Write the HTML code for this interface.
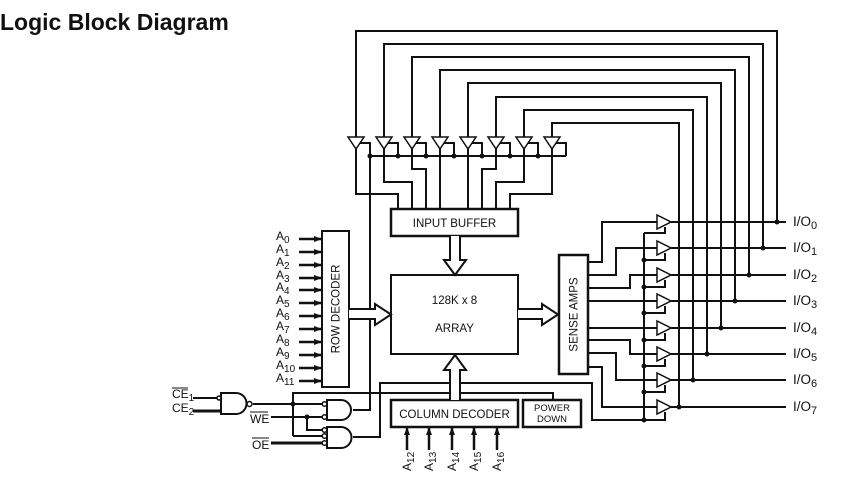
<!DOCTYPE html>
<html><head><meta charset="utf-8"><style>
html,body{margin:0;padding:0;background:#fff;}
svg{display:block;}
text{font-family:"Liberation Sans",sans-serif;fill:#111;}
</style></head><body>
<svg width="848" height="478" viewBox="0 0 848 478" xmlns="http://www.w3.org/2000/svg">
<defs>
<marker id="ah" markerWidth="8" markerHeight="6" refX="7" refY="3" orient="auto" markerUnits="userSpaceOnUse"><path d="M0,0 L8,3 L0,6 Z" fill="#111"/></marker>
</defs>
<text x="0" y="30" font-size="23" font-weight="bold">Logic Block Diagram</text>
<g fill="none" stroke="#111" stroke-width="2">
<path d="M356 137V31H777V222"/>
<path d="M384 137V44H763V248"/>
<path d="M412 137V57H749V275"/>
<path d="M440 137V70H735V301"/>
<path d="M468 137V83H721V328"/>
<path d="M496 137V97H707V354"/>
<path d="M524 137V110H693V380"/>
<path d="M552 137V123H679V407"/>
<g fill="#fff" stroke-width="1.5">
<path d="M348 137H364L356 149Z"/><path d="M376 137H392L384 149Z"/><path d="M404 137H420L412 149Z"/><path d="M432 137H448L440 149Z"/>
<path d="M460 137H476L468 149Z"/><path d="M488 137H504L496 149Z"/><path d="M516 137H532L524 149Z"/><path d="M544 137H560L552 149Z"/>
</g>
<path d="M360 143H370V156M388 143H398V156M416 143H426V156M444 143H454V156M472 143H482V156M500 143H510V156M528 143H538V156M556 143H566V156"/>
<path d="M370 156H566"/>
<path d="M356 149V194H398V209M384 149V182H412V209M412 149V169H426V209M440 149V209M468 149V209M496 149V169H482V209M524 149V182H496V209M552 149V194H510V209"/>
<rect x="391" y="209" width="127" height="27" stroke-width="2.5"/>
<rect x="391" y="275" width="127" height="79"/>
<rect x="322" y="231" width="27" height="156"/>
<rect x="559" y="255" width="29" height="119" stroke-width="2.5"/>
<rect x="391" y="400" width="127" height="27" stroke-width="2.5"/>
<rect x="523" y="400" width="58" height="27" stroke-width="2.5"/>
<path d="M370 156V410H353"/>
<path d="M353 437H380V383H592V420H644"/>
<path d="M644 233V420"/>
<path d="M293 436V393H553V400"/>
<path d="M253 404H322"/>
<path d="M293 436H322"/>
<path d="M271 417H322"/>
<path d="M307 417V430H322"/>
<path d="M271 443H322" stroke-width="3"/>
<path d="M193 398H217"/>
<path d="M193 411H221" stroke-width="3"/>
<path d="M221 393H236A10.5 10.5 0 0 1 236 414H221Z" fill="#fff"/>
<circle cx="249.5" cy="404" r="2.5" fill="#fff" stroke-width="1.5"/>
<circle cx="219" cy="398" r="2" fill="#fff" stroke-width="1.5"/>
<path d="M327 400H341A10 10 0 0 1 341 420H327Z" fill="#fff"/>
<path d="M327 427H341A10.5 10.5 0 0 1 341 448H327Z" fill="#fff"/>
<g fill="#fff" stroke-width="1.5">
<circle cx="324.5" cy="404" r="2.3"/><circle cx="324.5" cy="417" r="2.3"/>
<circle cx="324.5" cy="430" r="2.3"/><circle cx="324.5" cy="436" r="2.3"/><circle cx="324.5" cy="443" r="2.3"/>
</g>
<path d="M588 262H602V222H657M588 275H616V248H657M588 288H630V275H657M588 301H657M588 328H657M588 340H630V354H657M588 353H616V380H657M588 367H602V407H657"/>
<path d="M644 233H665V227M644 260H665V253M644 287H665V280M644 313H665V306M644 340H665V333M644 366H665V359M644 392H665V385M644 420H665V412"/>
<g fill="#fff" stroke-width="1.5">
<path d="M657 215V229L671 222Z"/><path d="M657 241V255L671 248Z"/><path d="M657 268V282L671 275Z"/><path d="M657 294V308L671 301Z"/>
<path d="M657 321V335L671 328Z"/><path d="M657 347V361L671 354Z"/><path d="M657 373V387L671 380Z"/><path d="M657 400V414L671 407Z"/>
</g>
<path d="M671 222H786M671 248H786M671 275H786M671 301H786M671 328H786M671 354H786M671 380H786M671 407H786"/>
<path d="M349 309H375V304L391 314.5L375 325V319H349" fill="#fff"/>
<path d="M518 309H542V304L558 314.5L542 325V319H518" fill="#fff"/>
<path d="M450 236V260H444L455 275L466 260H460V236" fill="#fff"/>
<path d="M450 400V370H444L455 355L466 370H460V400" fill="#fff"/>
<g marker-end="url(#ah)" stroke-width="2.5">
<path d="M299 239H321"/><path d="M299 252H321"/><path d="M299 265H321"/><path d="M299 278H321"/><path d="M299 290H321"/><path d="M299 303H321"/>
<path d="M299 316H321"/><path d="M299 329H321"/><path d="M299 342H321"/><path d="M299 355H321"/><path d="M299 368H321"/><path d="M299 381H321"/>
<path d="M407 450V428"/><path d="M429 450V428"/><path d="M452 450V428"/><path d="M474 450V428"/><path d="M497 450V428"/>
</g>
<path d="M172 388H188M250 412H268M252 438H269" stroke-width="1"/>
</g>
<g fill="#111">
<circle cx="370" cy="156" r="2.5"/><circle cx="398" cy="156" r="2.5"/><circle cx="426" cy="156" r="2.5"/><circle cx="454" cy="156" r="2.5"/>
<circle cx="482" cy="156" r="2.5"/><circle cx="510" cy="156" r="2.5"/><circle cx="538" cy="156" r="2.5"/>
<circle cx="293" cy="404" r="2.5"/><circle cx="307" cy="417" r="2.5"/>
<circle cx="644" cy="260" r="2.5"/><circle cx="644" cy="287" r="2.5"/><circle cx="644" cy="313" r="2.5"/><circle cx="644" cy="340" r="2.5"/>
<circle cx="644" cy="366" r="2.5"/><circle cx="644" cy="392" r="2.5"/><circle cx="644" cy="420" r="2.5"/>
<circle cx="777" cy="222" r="2.5"/><circle cx="763" cy="248" r="2.5"/><circle cx="749" cy="275" r="2.5"/><circle cx="735" cy="301" r="2.5"/>
<circle cx="721" cy="328" r="2.5"/><circle cx="707" cy="354" r="2.5"/><circle cx="693" cy="380" r="2.5"/><circle cx="679" cy="407" r="2.5"/>
</g>
<g font-size="11.5">
<text x="454.5" y="227" text-anchor="middle">INPUT BUFFER</text>
<text x="454.5" y="304" text-anchor="middle">128K x 8</text>
<text x="454.5" y="332" text-anchor="middle">ARRAY</text>
<text x="454.5" y="418" text-anchor="middle">COLUMN DECODER</text>
<text x="552" y="411" text-anchor="middle" font-size="9.5">POWER</text>
<text x="552" y="422" text-anchor="middle" font-size="9.5">DOWN</text>
<text transform="translate(339.5 309) rotate(-90)" text-anchor="middle">ROW DECODER</text>
<text transform="translate(577.5 314.5) rotate(-90)" text-anchor="middle">SENSE AMPS</text>
</g>
<g font-size="12">
<text x="276" y="240">A<tspan font-size="10" dy="3">0</tspan></text>
<text x="276" y="253">A<tspan font-size="10" dy="3">1</tspan></text>
<text x="276" y="266">A<tspan font-size="10" dy="3">2</tspan></text>
<text x="276" y="279">A<tspan font-size="10" dy="3">3</tspan></text>
<text x="276" y="291">A<tspan font-size="10" dy="3">4</tspan></text>
<text x="276" y="304">A<tspan font-size="10" dy="3">5</tspan></text>
<text x="276" y="317">A<tspan font-size="10" dy="3">6</tspan></text>
<text x="276" y="330">A<tspan font-size="10" dy="3">7</tspan></text>
<text x="276" y="343">A<tspan font-size="10" dy="3">8</tspan></text>
<text x="276" y="356">A<tspan font-size="10" dy="3">9</tspan></text>
<text x="276" y="369">A<tspan font-size="10" dy="3">10</tspan></text>
<text x="276" y="382">A<tspan font-size="10" dy="3">11</tspan></text>
<text x="172" y="398">CE<tspan font-size="10" dy="3">1</tspan></text>
<text x="172" y="412">CE<tspan font-size="10" dy="3">2</tspan></text>
<text x="250" y="423">WE</text>
<text x="252" y="449">OE</text>
<text transform="translate(411 471) rotate(-90)">A<tspan font-size="10" dy="3">12</tspan></text>
<text transform="translate(433 471) rotate(-90)">A<tspan font-size="10" dy="3">13</tspan></text>
<text transform="translate(456 471) rotate(-90)">A<tspan font-size="10" dy="3">14</tspan></text>
<text transform="translate(478 471) rotate(-90)">A<tspan font-size="10" dy="3">15</tspan></text>
<text transform="translate(501 471) rotate(-90)">A<tspan font-size="10" dy="3">16</tspan></text>
</g>
<g font-size="13.5">
<text x="793" y="226">I/O<tspan font-size="11" dy="3">0</tspan></text>
<text x="793" y="252">I/O<tspan font-size="11" dy="3">1</tspan></text>
<text x="793" y="279">I/O<tspan font-size="11" dy="3">2</tspan></text>
<text x="793" y="305">I/O<tspan font-size="11" dy="3">3</tspan></text>
<text x="793" y="332">I/O<tspan font-size="11" dy="3">4</tspan></text>
<text x="793" y="358">I/O<tspan font-size="11" dy="3">5</tspan></text>
<text x="793" y="384">I/O<tspan font-size="11" dy="3">6</tspan></text>
<text x="793" y="411">I/O<tspan font-size="11" dy="3">7</tspan></text>
</g>
</svg>
</body></html>
